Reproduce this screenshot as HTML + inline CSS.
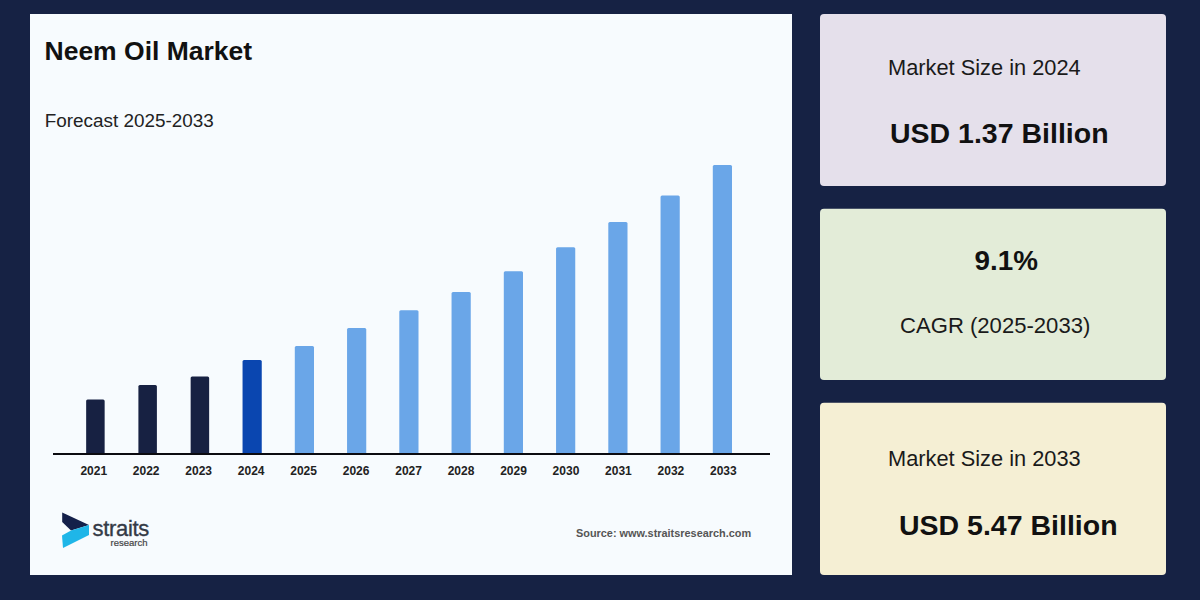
<!DOCTYPE html>
<html>
<head>
<meta charset="utf-8">
<style>
html,body{margin:0;padding:0;}
body{width:1200px;height:600px;background:#162244;position:relative;overflow:hidden;font-family:"Liberation Sans",sans-serif;}
.abs{position:absolute;white-space:nowrap;}
.title{left:44.5px;top:36px;font-size:26.5px;font-weight:bold;color:#111;line-height:30px;}
.sub{left:44.7px;top:110px;font-size:18.9px;color:#222;line-height:22px;}
.lbl{font-size:21.8px;color:#1a1a1a;line-height:24px;}
.val{font-size:28.5px;font-weight:bold;color:#111;line-height:32px;}
.src{left:576px;top:527px;font-size:10.9px;font-weight:bold;color:#555;line-height:12px;}
svg text{font-family:"Liberation Sans",sans-serif;}
</style>
</head>
<body>
<svg class="abs" style="left:0;top:0" width="1200" height="600" viewBox="0 0 1200 600">
<rect x="30" y="14" width="762" height="561" fill="#f7fbfe"/>
<rect x="820" y="14" width="346" height="172" rx="4" fill="#e5e0eb"/>
<rect x="820" y="208.7" width="346" height="171.3" rx="4" fill="#e3ecd8"/>
<rect x="820" y="402.7" width="346" height="172.3" rx="4" fill="#f5efd4"/>
<path d="M86.15 453V401.00Q86.15 399.50 87.65 399.50H103.15Q104.65 399.50 104.65 401.00V453Z" fill="#172142"/>
<path d="M138.40 453V386.50Q138.40 385.00 139.90 385.00H155.40Q156.90 385.00 156.90 386.50V453Z" fill="#172142"/>
<path d="M190.65 453V377.90Q190.65 376.40 192.15 376.40H207.65Q209.15 376.40 209.15 377.90V453Z" fill="#172142"/>
<path d="M242.55 453V361.50Q242.55 360.00 244.05 360.00H260.25Q261.75 360.00 261.75 361.50V453Z" fill="#0a46b0"/>
<path d="M294.80 453V347.60Q294.80 346.10 296.30 346.10H312.50Q314.00 346.10 314.00 347.60V453Z" fill="#6aa6e8"/>
<path d="M347.05 453V329.50Q347.05 328.00 348.55 328.00H364.75Q366.25 328.00 366.25 329.50V453Z" fill="#6aa6e8"/>
<path d="M399.30 453V311.70Q399.30 310.20 400.80 310.20H417.00Q418.50 310.20 418.50 311.70V453Z" fill="#6aa6e8"/>
<path d="M451.55 453V293.50Q451.55 292.00 453.05 292.00H469.25Q470.75 292.00 470.75 293.50V453Z" fill="#6aa6e8"/>
<path d="M503.80 453V272.70Q503.80 271.20 505.30 271.20H521.50Q523.00 271.20 523.00 272.70V453Z" fill="#6aa6e8"/>
<path d="M556.05 453V248.75Q556.05 247.25 557.55 247.25H573.75Q575.25 247.25 575.25 248.75V453Z" fill="#6aa6e8"/>
<path d="M608.30 453V223.50Q608.30 222.00 609.80 222.00H626.00Q627.50 222.00 627.50 223.50V453Z" fill="#6aa6e8"/>
<path d="M660.55 453V196.90Q660.55 195.40 662.05 195.40H678.25Q679.75 195.40 679.75 196.90V453Z" fill="#6aa6e8"/>
<path d="M712.80 453V166.50Q712.80 165.00 714.30 165.00H730.50Q732.00 165.00 732.00 166.50V453Z" fill="#6aa6e8"/>
<rect x="53" y="453" width="717" height="2" fill="#0b0b10"/>
<g font-size="12" font-weight="bold" fill="#222" text-anchor="middle">
<text x="93.74" y="474.6">2021</text>
<text x="146.21" y="474.6">2022</text>
<text x="198.68" y="474.6">2023</text>
<text x="251.15" y="474.6">2024</text>
<text x="303.62" y="474.6">2025</text>
<text x="356.09" y="474.6">2026</text>
<text x="408.56" y="474.6">2027</text>
<text x="461.03" y="474.6">2028</text>
<text x="513.50" y="474.6">2029</text>
<text x="565.97" y="474.6">2030</text>
<text x="618.44" y="474.6">2031</text>
<text x="670.91" y="474.6">2032</text>
<text x="723.38" y="474.6">2033</text>
</g>
<polygon points="62.2,512.5 89,525 71,530.5 62.2,522" fill="#14204a"/>
<polygon points="71,530.5 89,525 89,535 63,548 62,535.5" fill="#1fb6e8"/>
</svg>
<div class="abs title">Neem Oil Market</div>
<div class="abs sub">Forecast 2025-2033</div>
<div class="abs" style="left:92.5px;top:516px;font-size:22px;letter-spacing:-0.3px;-webkit-text-stroke:0.35px #343a46;color:#343a46;line-height:26px;">straits</div>
<div class="abs" style="left:110.5px;top:538px;font-size:9.5px;color:#444;line-height:10px;-webkit-text-stroke:0.2px #444;">research</div>
<div class="abs src">Source: www.straitsresearch.com</div>

<div class="abs lbl" style="left:888px;top:56px">Market Size in 2024</div>
<div class="abs val" style="left:890px;top:116.5px">USD 1.37 Billion</div>

<div class="abs val" style="left:974.5px;top:245px;font-size:27.8px">9.1%</div>
<div class="abs lbl" style="left:900px;top:313.5px;font-size:22.1px">CAGR (2025-2033)</div>

<div class="abs lbl" style="left:888px;top:447px">Market Size in 2033</div>
<div class="abs val" style="left:899px;top:508.5px">USD 5.47 Billion</div>
</body>
</html>
